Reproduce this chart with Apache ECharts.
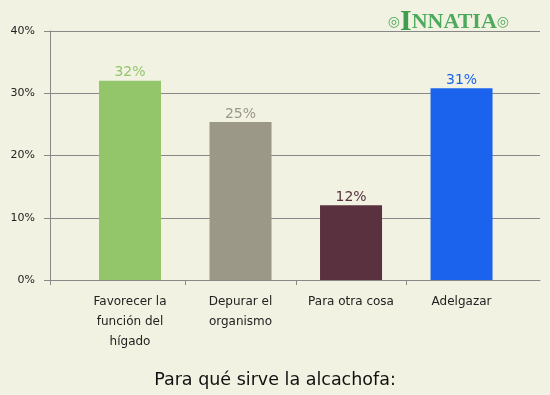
<!DOCTYPE html>
<html><head><meta charset="utf-8">
<script src="https://cdn.jsdelivr.net/npm/echarts@6/dist/echarts.min.js"></script>
<style>html,body{margin:0;padding:0;background:#F2F2E2;}#c{width:550px;height:395px;}</style>
</head><body><div id="c"></div>
<script>
var categories = ['Favorecer la\nfunción del\nhígado', 'Depurar el\norganismo', 'Para otra cosa', 'Adelgazar'];
var values = [32, 25.4, 12, 30.8];
var barColors = ['#93C66B', '#9B9888', '#5A323F', '#1B63ED'];
var yTicks = [0, 10, 20, 30, 40];
var titleText = 'Para qué sirve la alcachofa:';

var positions = categories.map(function (c, i) { return i + 1; });
var xMin = 0.276, xMax = 4.71;
var chart = echarts.init(document.getElementById('c'));
chart.setOption({
  backgroundColor: '#F2F2E2',
  animation: false,
  textStyle: { fontFamily: 'DejaVu Sans' },
  title: [{
    text: titleText, left: 'center', top: 366,
    textStyle: { fontFamily: 'DejaVu Sans', fontSize: 17.5, fontWeight: 'normal', color: '#111' }
  }, {
    text: '{d|◎}{big|I}{sm|NNATIA}{d|◎}', right: 36, top: 2,
    textStyle: { rich: {
      d: { fontFamily: 'DejaVu Sans', fontSize: 14, color: '#4DAA5C' },
      big: { fontFamily: 'Liberation Serif', fontSize: 30, color: '#3E9E4E' },
      sm: { fontFamily: 'Liberation Serif', fontSize: 22, color: '#4DAA5C' }
    } }
  }],
  grid: { left: 50, right: 10, top: 31, bottom: 115 },
  xAxis: {
    type: 'value', min: xMin, max: xMax,
    splitLine: { show: false },
    axisLine: { show: true, lineStyle: { color: '#888', width: 1 } },
    axisTick: { show: true, length: 5, lineStyle: { color: '#888' },
      customValues: [xMin].concat(positions.slice(0, -1).map(function (p) { return p + 0.5; })) },
    axisLabel: {
      customValues: positions, margin: 12, fontSize: 12, lineHeight: 20, color: '#222',
      fontFamily: 'DejaVu Sans',
      formatter: function (v) { return categories[Math.round(v) - 1] || ''; }
    }
  },
  yAxis: {
    type: 'value', min: 0, max: 40, interval: 10,
    axisLine: { show: true, lineStyle: { color: '#888', width: 1 } },
    axisTick: { show: true, length: 6, lineStyle: { color: '#888' } },
    splitLine: { show: true, lineStyle: { color: '#888', width: 1 } },
    axisLabel: { margin: 15, fontSize: 11, color: '#222', fontFamily: 'DejaVu Sans',
      formatter: function (v) { return v + '%'; } }
  },
  series: [{
    type: 'bar', barWidth: 62,
    data: values.map(function (v, i) {
      return { value: [positions[i], v], itemStyle: { color: barColors[i] },
        label: { color: barColors[i] } };
    }),
    label: { show: true, position: 'top', distance: 1, fontSize: 14, fontFamily: 'DejaVu Sans',
      formatter: function (p) { return Math.round(p.value[1]) + '%'; } }
  }]
});
</script></body></html>
